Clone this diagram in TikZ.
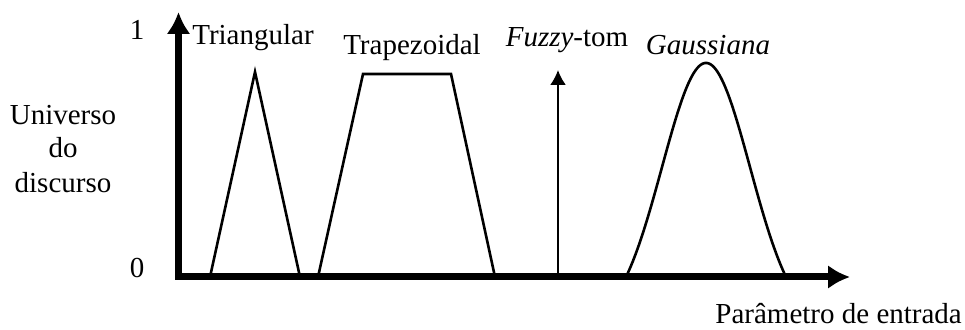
\documentclass[tikz,border=0pt]{standalone}
\usepackage{fontspec}
\setmainfont{Liberation Serif}
\usetikzlibrary{arrows.meta}
\tikzset{
  rotulo/.style={inner sep=0pt, font=\fontsize{29}{35}\selectfont},
  eixo/.style={line width=7pt, -{Latex[length=22pt,width=24pt]}},
  funcao/.style={line width=2.6pt, line join=miter}
}
\begin{document}
\begin{tikzpicture}[x=1pt, y=1pt]
    \useasboundingbox (0,0) rectangle (965,329);
    % Funcoes de pertinencia
    \draw[funcao] (210,52) -- (255,257) -- (300,52);
    \draw[funcao] (318,52) -- (363,255) -- (451,255) -- (495,52);
    \draw[funcao, samples=120, domain=-80:80]
        plot ({706+\x}, {52+214*(exp(-(\x/44)^2/2)-exp(-(80/44)^2/2))/(1-exp(-(80/44)^2/2))});
    \coordinate (ftbase) at (558,52);
    \coordinate (fttopo) at (558,259);
    \draw[line width=2pt, -{Latex[length=15pt,width=16pt]}] (ftbase) -- (fttopo);
    % Eixos
    \coordinate (O) at (178.5,52);
    \coordinate (ytopo) at (178.5,317);
    \coordinate (xfim) at (850,52);
    \draw[eixo] (O) -- (ytopo);
    \draw[eixo] ([xshift=-3.5pt]O) -- (xfim);
    % Rotulos
    \node[rotulo, anchor=base] (um) at (137,289) {1};
    \node[rotulo, anchor=base] (zero) at (137,51) {0};
    \node[rotulo, anchor=base] (tri) at (253,284) {Triangular};
    \node[rotulo, anchor=base] (trap) at (412,274) {Trapezoidal};
    \node[rotulo, anchor=base] (ft) at (567,282) {\textit{Fuzzy}-tom};
    \node[rotulo, anchor=base] (gauss) at (708,274) {\textit{Gaussiana}};
    \node[rotulo, anchor=base] (univ) at (63,204) {Universo};
    \node[rotulo, anchor=base] (do) at (63,171) {do};
    \node[rotulo, anchor=base] (disc) at (63,136) {discurso};
    \node[rotulo, anchor=base east] (param) at (962,6) {Parâmetro de entrada};
\end{tikzpicture}
\end{document}
